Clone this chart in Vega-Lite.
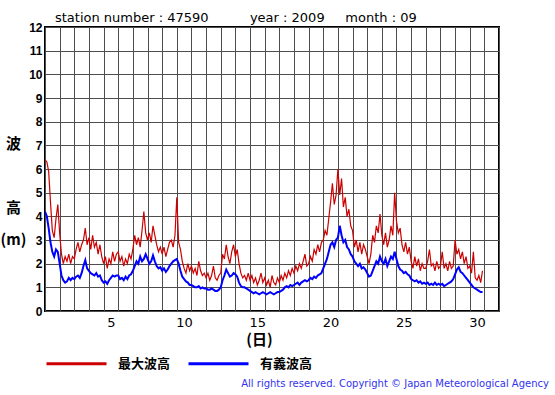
{
  "$schema": "https://vega.github.io/schema/vega-lite/v6.json",
  "width": 454,
  "height": 284,
  "autosize": "none",
  "padding": {"left": 45, "top": 27, "right": 56, "bottom": 84},
  "background": "white",
  "title": {
    "text": "station number : 47590\u00a0\u00a0\u00a0\u00a0\u00a0\u00a0\u00a0\u00a0\u00a0\u00a0year : 2009\u00a0\u00a0\u00a0\u00a0\u00a0month : 09",
    "anchor": "start",
    "frame": "group",
    "dx": 10,
    "dy": 19,
    "offset": 5,
    "baseline": "alphabetic",
    "font": "DejaVu Sans",
    "fontSize": 13,
    "fontWeight": "normal",
    "color": "black"
  },
  "config": {
    "view": {"stroke": "black", "strokeWidth": 2},
    "axis": {"domain": false, "ticks": false, "grid": true, "gridColor": "#4d4d4d", "gridOpacity": 1, "gridWidth": 1, "labelColor": "black", "titleColor": "black"}
  },
  "datasets": {
    "waves": [
      {"t":1,"max":6.4,"sig":4.2},{"t":1.125,"max":6.3,"sig":4.0},{"t":1.25,"max":5.9,"sig":3.5},{"t":1.375,"max":4.6,"sig":2.9},{"t":1.5,"max":3.4,"sig":2.5},{"t":1.625,"max":3.1,"sig":2.3},{"t":1.75,"max":3.9,"sig":2.6},{"t":1.875,"max":4.5,"sig":2.5},
      {"t":2,"max":3.3,"sig":2.0},{"t":2.125,"max":2.4,"sig":1.5},{"t":2.25,"max":2.0,"sig":1.3},{"t":2.375,"max":2.3,"sig":1.2},{"t":2.5,"max":2.1,"sig":1.25},{"t":2.625,"max":2.4,"sig":1.4},{"t":2.75,"max":2.0,"sig":1.3},{"t":2.875,"max":2.3,"sig":1.4},
      {"t":3,"max":2.2,"sig":1.35},{"t":3.125,"max":2.6,"sig":1.45},{"t":3.25,"max":2.9,"sig":1.5},{"t":3.375,"max":2.5,"sig":1.4},{"t":3.5,"max":2.8,"sig":1.6},{"t":3.625,"max":3.0,"sig":1.9},{"t":3.75,"max":3.5,"sig":2.15},{"t":3.875,"max":2.8,"sig":1.8},
      {"t":4,"max":3.1,"sig":1.7},{"t":4.125,"max":2.6,"sig":1.6},{"t":4.25,"max":3.2,"sig":1.55},{"t":4.375,"max":2.7,"sig":1.5},{"t":4.5,"max":2.9,"sig":1.6},{"t":4.625,"max":2.4,"sig":1.45},{"t":4.75,"max":2.8,"sig":1.5},{"t":4.875,"max":2.3,"sig":1.3},
      {"t":5,"max":2.0,"sig":1.2},{"t":5.125,"max":2.3,"sig":1.25},{"t":5.25,"max":1.8,"sig":1.15},{"t":5.375,"max":2.2,"sig":1.3},{"t":5.5,"max":2.0,"sig":1.4},{"t":5.625,"max":2.5,"sig":1.5},{"t":5.75,"max":2.1,"sig":1.45},{"t":5.875,"max":2.4,"sig":1.5},
      {"t":6,"max":2.5,"sig":1.5},{"t":6.125,"max":2.1,"sig":1.35},{"t":6.25,"max":2.3,"sig":1.4},{"t":6.375,"max":1.9,"sig":1.3},{"t":6.5,"max":2.2,"sig":1.45},{"t":6.625,"max":2.0,"sig":1.35},{"t":6.75,"max":2.4,"sig":1.5},{"t":6.875,"max":2.2,"sig":1.55},
      {"t":7,"max":2.6,"sig":1.7},{"t":7.125,"max":3.2,"sig":1.9},{"t":7.25,"max":2.8,"sig":2.1},{"t":7.375,"max":3.1,"sig":2.0},{"t":7.5,"max":2.7,"sig":2.3},{"t":7.625,"max":3.4,"sig":2.1},{"t":7.75,"max":4.2,"sig":2.2},{"t":7.875,"max":3.3,"sig":2.4},
      {"t":8,"max":3.0,"sig":2.2},{"t":8.125,"max":3.3,"sig":2.0},{"t":8.25,"max":2.9,"sig":2.1},{"t":8.375,"max":3.6,"sig":2.35},{"t":8.5,"max":3.2,"sig":2.1},{"t":8.625,"max":2.8,"sig":1.9},{"t":8.75,"max":2.5,"sig":1.8},{"t":8.875,"max":2.7,"sig":1.85},
      {"t":9,"max":2.4,"sig":1.7},{"t":9.125,"max":2.7,"sig":1.8},{"t":9.25,"max":2.3,"sig":1.65},{"t":9.375,"max":2.6,"sig":1.75},{"t":9.5,"max":2.9,"sig":1.9},{"t":9.625,"max":3.0,"sig":2.0},{"t":9.75,"max":2.7,"sig":2.1},{"t":9.875,"max":3.2,"sig":2.15},
      {"t":10,"max":4.8,"sig":2.2},{"t":10.125,"max":2.9,"sig":2.0},{"t":10.25,"max":2.6,"sig":1.7},{"t":10.375,"max":2.1,"sig":1.45},{"t":10.5,"max":1.8,"sig":1.35},{"t":10.625,"max":1.6,"sig":1.25},{"t":10.75,"max":2.0,"sig":1.2},{"t":10.875,"max":1.7,"sig":1.1},
      {"t":11,"max":1.9,"sig":1.1},{"t":11.125,"max":1.6,"sig":1.05},{"t":11.25,"max":1.8,"sig":1.0},{"t":11.375,"max":1.5,"sig":1.0},{"t":11.5,"max":2.1,"sig":1.05},{"t":11.625,"max":1.7,"sig":0.95},{"t":11.75,"max":1.5,"sig":1.0},{"t":11.875,"max":1.6,"sig":0.95},
      {"t":12,"max":1.4,"sig":0.95},{"t":12.125,"max":1.6,"sig":0.9},{"t":12.25,"max":1.3,"sig":0.9},{"t":12.375,"max":1.5,"sig":0.95},{"t":12.5,"max":1.9,"sig":0.9},{"t":12.625,"max":1.4,"sig":0.85},{"t":12.75,"max":1.3,"sig":0.85},{"t":12.875,"max":1.5,"sig":0.9},
      {"t":13,"max":1.6,"sig":1.0},{"t":13.125,"max":2.4,"sig":1.3},{"t":13.25,"max":2.2,"sig":1.5},{"t":13.375,"max":2.8,"sig":1.75},{"t":13.5,"max":2.3,"sig":1.6},{"t":13.625,"max":2.0,"sig":1.45},{"t":13.75,"max":2.5,"sig":1.5},{"t":13.875,"max":2.8,"sig":1.6},
      {"t":14,"max":2.3,"sig":1.55},{"t":14.125,"max":2.6,"sig":1.45},{"t":14.25,"max":2.0,"sig":1.2},{"t":14.375,"max":1.6,"sig":1.05},{"t":14.5,"max":1.4,"sig":1.0},{"t":14.625,"max":1.5,"sig":1.0},{"t":14.75,"max":1.3,"sig":0.95},{"t":14.875,"max":1.6,"sig":0.9},
      {"t":15,"max":1.3,"sig":0.85},{"t":15.125,"max":1.5,"sig":0.8},{"t":15.25,"max":1.2,"sig":0.75},{"t":15.375,"max":1.4,"sig":0.8},{"t":15.5,"max":1.1,"sig":0.75},{"t":15.625,"max":1.3,"sig":0.7},{"t":15.75,"max":1.6,"sig":0.75},{"t":15.875,"max":1.2,"sig":0.8},
      {"t":16,"max":1.4,"sig":0.75},{"t":16.125,"max":1.1,"sig":0.7},{"t":16.25,"max":1.3,"sig":0.75},{"t":16.375,"max":1.0,"sig":0.8},{"t":16.5,"max":1.5,"sig":0.75},{"t":16.625,"max":1.2,"sig":0.7},{"t":16.75,"max":1.1,"sig":0.75},{"t":16.875,"max":1.4,"sig":0.8},
      {"t":17,"max":1.2,"sig":0.8},{"t":17.125,"max":1.5,"sig":0.85},{"t":17.25,"max":1.3,"sig":0.9},{"t":17.375,"max":1.6,"sig":1.0},{"t":17.5,"max":1.4,"sig":1.05},{"t":17.625,"max":1.7,"sig":1.0},{"t":17.75,"max":1.5,"sig":1.1},{"t":17.875,"max":1.8,"sig":1.05},
      {"t":18,"max":1.6,"sig":1.1},{"t":18.125,"max":1.9,"sig":1.15},{"t":18.25,"max":1.7,"sig":1.2},{"t":18.375,"max":2.0,"sig":1.1},{"t":18.5,"max":1.8,"sig":1.2},{"t":18.625,"max":2.1,"sig":1.25},{"t":18.75,"max":2.4,"sig":1.3},{"t":18.875,"max":1.9,"sig":1.25},
      {"t":19,"max":2.0,"sig":1.3},{"t":19.125,"max":2.3,"sig":1.4},{"t":19.25,"max":2.1,"sig":1.35},{"t":19.375,"max":2.6,"sig":1.45},{"t":19.5,"max":2.4,"sig":1.4},{"t":19.625,"max":2.8,"sig":1.5},{"t":19.75,"max":2.5,"sig":1.55},{"t":19.875,"max":2.9,"sig":1.6},
      {"t":20,"max":3.0,"sig":1.8},{"t":20.125,"max":3.4,"sig":2.0},{"t":20.25,"max":3.2,"sig":2.2},{"t":20.375,"max":3.9,"sig":2.5},{"t":20.5,"max":4.6,"sig":2.8},{"t":20.625,"max":5.4,"sig":2.9},{"t":20.75,"max":4.5,"sig":2.7},{"t":20.875,"max":4.9,"sig":3.0},
      {"t":21,"max":6.0,"sig":3.1},{"t":21.125,"max":4.9,"sig":3.6},{"t":21.25,"max":5.6,"sig":3.2},{"t":21.375,"max":4.4,"sig":2.9},{"t":21.5,"max":4.8,"sig":3.0},{"t":21.625,"max":4.0,"sig":2.7},{"t":21.75,"max":4.3,"sig":2.6},{"t":21.875,"max":3.6,"sig":2.4},
      {"t":22,"max":3.4,"sig":2.3},{"t":22.125,"max":2.7,"sig":2.1},{"t":22.25,"max":3.0,"sig":2.0},{"t":22.375,"max":2.5,"sig":1.9},{"t":22.5,"max":2.9,"sig":2.0},{"t":22.625,"max":2.4,"sig":1.8},{"t":22.75,"max":2.8,"sig":1.85},{"t":22.875,"max":2.6,"sig":1.75},
      {"t":23,"max":2.3,"sig":1.6},{"t":23.125,"max":2.0,"sig":1.45},{"t":23.25,"max":2.4,"sig":1.5},{"t":23.375,"max":3.2,"sig":1.7},{"t":23.5,"max":2.9,"sig":1.9},{"t":23.625,"max":3.6,"sig":2.1},{"t":23.75,"max":3.3,"sig":2.0},{"t":23.875,"max":4.1,"sig":2.3},
      {"t":24,"max":3.2,"sig":2.1},{"t":24.125,"max":2.8,"sig":2.0},{"t":24.25,"max":3.3,"sig":2.2},{"t":24.375,"max":2.7,"sig":1.9},{"t":24.5,"max":3.0,"sig":2.1},{"t":24.625,"max":3.6,"sig":2.3},{"t":24.75,"max":3.2,"sig":2.2},{"t":24.875,"max":5.0,"sig":2.5},
      {"t":25,"max":3.8,"sig":2.2},{"t":25.125,"max":3.3,"sig":1.9},{"t":25.25,"max":3.5,"sig":1.75},{"t":25.375,"max":2.8,"sig":1.7},{"t":25.5,"max":2.5,"sig":1.6},{"t":25.625,"max":2.9,"sig":1.65},{"t":25.75,"max":2.4,"sig":1.55},{"t":25.875,"max":2.7,"sig":1.5},
      {"t":26,"max":2.1,"sig":1.35},{"t":26.125,"max":1.8,"sig":1.3},{"t":26.25,"max":2.3,"sig":1.25},{"t":26.375,"max":1.9,"sig":1.3},{"t":26.5,"max":2.2,"sig":1.2},{"t":26.625,"max":1.7,"sig":1.25},{"t":26.75,"max":2.0,"sig":1.15},{"t":26.875,"max":1.8,"sig":1.2},
      {"t":27,"max":1.8,"sig":1.15},{"t":27.125,"max":2.1,"sig":1.2},{"t":27.25,"max":2.6,"sig":1.1},{"t":27.375,"max":1.9,"sig":1.15},{"t":27.5,"max":2.0,"sig":1.1},{"t":27.625,"max":1.7,"sig":1.2},{"t":27.75,"max":2.1,"sig":1.1},{"t":27.875,"max":1.8,"sig":1.15},
      {"t":28,"max":1.9,"sig":1.1},{"t":28.125,"max":2.5,"sig":1.15},{"t":28.25,"max":1.8,"sig":1.05},{"t":28.375,"max":2.0,"sig":1.1},{"t":28.5,"max":1.7,"sig":1.15},{"t":28.625,"max":2.1,"sig":1.2},{"t":28.75,"max":1.8,"sig":1.25},{"t":28.875,"max":1.9,"sig":1.35},
      {"t":29,"max":3.0,"sig":1.55},{"t":29.125,"max":2.4,"sig":1.75},{"t":29.25,"max":2.6,"sig":1.85},{"t":29.375,"max":2.2,"sig":1.65},{"t":29.5,"max":2.5,"sig":1.6},{"t":29.625,"max":2.0,"sig":1.5},{"t":29.75,"max":2.3,"sig":1.4},{"t":29.875,"max":1.8,"sig":1.3},
      {"t":30,"max":1.9,"sig":1.2},{"t":30.125,"max":1.6,"sig":1.1},{"t":30.25,"max":2.5,"sig":1.0},{"t":30.375,"max":1.4,"sig":0.95},{"t":30.5,"max":1.3,"sig":0.9},{"t":30.625,"max":1.5,"sig":0.85},{"t":30.75,"max":1.2,"sig":0.8},{"t":30.875,"max":1.7,"sig":0.8}
    ],
    "notes": [{"note": "All rights reserved. Copyright © Japan Meteorological Agency"}]
  },
  "layer": [
    {
      "data": {"name": "waves"},
      "mark": {"type": "line", "strokeWidth": 1.2, "clip": true},
      "encoding": {
        "x": {
          "field": "t", "type": "quantitative",
          "scale": {"domain": [1, 32], "nice": false, "zero": false},
          "axis": {
            "values": [1,2,3,4,5,6,7,8,9,10,11,12,13,14,15,16,17,18,19,20,21,22,23,24,25,26,27,28,29,30,31,32],
            "labelExpr": "datum.value % 5 === 0 ? datum.label : ''",
            "labelOffset": 7.3, "labelOverlap": false, "labelFlush": false,
            "labelFont": "DejaVu Sans", "labelFontSize": 13, "labelPadding": 5,
            "title": "(日)", "titleFont": "Noto Sans CJK JP", "titleFontSize": 15, "titleFontWeight": "bold",
            "titleX": 214, "titleY": 28, "titleAlign": "center", "titleBaseline": "middle"
          }
        },
        "y": {
          "field": "max", "type": "quantitative",
          "scale": {"domain": [0, 12], "nice": false},
          "axis": {
            "values": [0,1,2,3,4,5,6,7,8,9,10,11,12],
            "labelOverlap": false,
            "labelFont": "Liberation Sans", "labelFontSize": 12, "labelFontWeight": "bold", "labelPadding": 3,
            "title": ["波", "\u200b", "高", "(m)"],
            "titleFont": "Noto Sans CJK JP", "titleFontSize": 15, "titleFontWeight": "bold",
            "titleAngle": 0, "titleAlign": "center", "titleBaseline": "top", "titleLineHeight": 32,
            "titleX": -32, "titleY": 109
          }
        },
        "color": {
          "datum": "最大波高", "type": "nominal",
          "scale": {"domain": ["最大波高", "有義波高"], "range": ["#cc0000", "#0000ff"]},
          "legend": {
            "orient": "none", "legendX": 0, "legendY": 305, "direction": "horizontal", "title": null,
            "symbolType": "stroke", "symbolSize": 3600, "symbolStrokeWidth": 3,
            "labelFont": "Noto Sans CJK JP", "labelFontSize": 13, "labelFontWeight": "bold", "labelColor": "black",
            "labelOffset": 10, "columnPadding": 11, "padding": 0
          }
        }
      }
    },
    {
      "data": {"name": "waves"},
      "mark": {"type": "line", "strokeWidth": 2, "clip": true},
      "encoding": {
        "x": {
          "field": "t", "type": "quantitative",
          "axis": {
            "values": [1,2,3,4,5,6,7,8,9,10,11,12,13,14,15,16,17,18,19,20,21,22,23,24,25,26,27,28,29,30,31,32],
            "labelExpr": "datum.value % 5 === 0 ? datum.label : ''",
            "labelOffset": 7.3, "labelOverlap": false, "labelFlush": false,
            "labelFont": "DejaVu Sans", "labelFontSize": 13, "labelPadding": 5,
            "title": "(日)", "titleFont": "Noto Sans CJK JP", "titleFontSize": 15, "titleFontWeight": "bold",
            "titleX": 214, "titleY": 28, "titleAlign": "center", "titleBaseline": "middle"
          }
        },
        "y": {
          "field": "sig", "type": "quantitative",
          "axis": {
            "values": [0,1,2,3,4,5,6,7,8,9,10,11,12],
            "labelOverlap": false,
            "labelFont": "Liberation Sans", "labelFontSize": 12, "labelFontWeight": "bold", "labelPadding": 3,
            "title": ["波", "\u200b", "高", "(m)"],
            "titleFont": "Noto Sans CJK JP", "titleFontSize": 15, "titleFontWeight": "bold",
            "titleAngle": 0, "titleAlign": "center", "titleBaseline": "top", "titleLineHeight": 32,
            "titleX": -32, "titleY": 109
          }
        },
        "color": {"datum": "有義波高", "type": "nominal"}
      }
    },
    {
      "data": {"name": "notes"},
      "mark": {"type": "text", "align": "right", "baseline": "middle", "font": "DejaVu Sans", "fontSize": 10, "color": "#3333ee"},
      "encoding": {
        "text": {"field": "note"},
        "x": {
          "datum": 35.41, "type": "quantitative",
          "axis": {
            "values": [1,2,3,4,5,6,7,8,9,10,11,12,13,14,15,16,17,18,19,20,21,22,23,24,25,26,27,28,29,30,31,32],
            "labelExpr": "datum.value % 5 === 0 ? datum.label : ''",
            "labelOffset": 7.3, "labelOverlap": false, "labelFlush": false,
            "labelFont": "DejaVu Sans", "labelFontSize": 13, "labelPadding": 5,
            "title": "(日)", "titleFont": "Noto Sans CJK JP", "titleFontSize": 15, "titleFontWeight": "bold",
            "titleX": 214, "titleY": 28, "titleAlign": "center", "titleBaseline": "middle"
          }
        },
        "y": {
          "datum": -3.08, "type": "quantitative",
          "axis": {
            "values": [0,1,2,3,4,5,6,7,8,9,10,11,12],
            "labelOverlap": false,
            "labelFont": "Liberation Sans", "labelFontSize": 12, "labelFontWeight": "bold", "labelPadding": 3,
            "title": ["波", "\u200b", "高", "(m)"],
            "titleFont": "Noto Sans CJK JP", "titleFontSize": 15, "titleFontWeight": "bold",
            "titleAngle": 0, "titleAlign": "center", "titleBaseline": "top", "titleLineHeight": 32,
            "titleX": -32, "titleY": 109
          }
        }
      }
    }
  ]
}
